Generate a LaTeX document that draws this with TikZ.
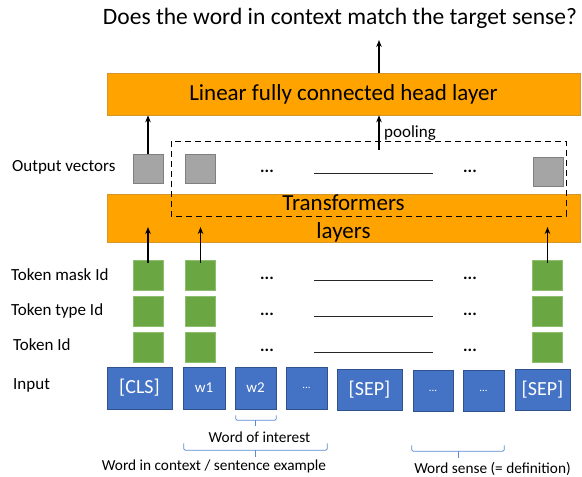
\documentclass[tikz,border=0pt]{standalone}
\usepackage{fontspec}
\setmainfont{Carlito}
\usetikzlibrary{arrows.meta,calc}
\definecolor{headorange}{RGB}{255,163,0}
\definecolor{headedge}{RGB}{214,150,40}
\definecolor{tokblue}{RGB}{68,114,196}
\definecolor{tokblueedge}{RGB}{47,82,143}
\definecolor{idgreen}{RGB}{106,166,65}
\definecolor{idgreenedge}{RGB}{140,190,110}
\definecolor{vecgray}{RGB}{165,165,165}
\definecolor{vecgrayedge}{RGB}{127,127,127}
\definecolor{bracecol}{RGB}{91,139,208}

\begin{document}
\begin{tikzpicture}[x=1pt,y=-1pt,
  layerbox/.style={draw=headedge, line width=0.6pt, fill=headorange, minimum width=473pt,
    inner sep=0pt, font=\fontsize{23}{28}\selectfont, align=center},
  vecbox/.style={draw=vecgrayedge, line width=0.6pt, fill=vecgray,
    minimum width=30pt, minimum height=29pt, inner sep=0pt},
  idbox/.style={draw=idgreenedge, line width=0.5pt, fill=idgreen,
    minimum width=30pt, minimum height=30pt, inner sep=0pt},
  tokbox/.style={draw=tokblueedge, line width=0.6pt, fill=tokblue, text=white,
    minimum height=42pt, inner sep=0pt},
  bigtok/.style={font=\fontsize{20}{24}\selectfont},
  wordtok/.style={font=\fontsize{15}{18}\selectfont},
  dottok/.style={font=\fontsize{11}{13}\selectfont},
  rowlabel/.style={anchor=west, inner sep=0pt, font=\fontsize{17}{20}\selectfont},
  dots/.style={inner sep=0pt, font=\fontsize{17}{20}\selectfont\bfseries},
  arr/.style={-{Stealth[length=7pt,width=5.5pt]}, line width=1.3pt},
  gap/.style={line width=1pt, draw=black!85},
  bracket/.style={draw=bracecol, line width=0.8pt, rounded corners=2pt},
  notelabel/.style={inner sep=0pt, font=\fontsize{15.3}{18}\selectfont}
]
\useasboundingbox (0,0) rectangle (582,477);

% question answered by the classifier
\node[inner sep=0pt, font=\fontsize{23.5}{28}\selectfont] (question) at (340,18)
  {Does the word in context match the target sense?};

% the two layer blocks
\node[layerbox, minimum height=42pt] (lin) at (343.5,94) {Linear fully connected head layer};
\node[layerbox, minimum height=48pt] (trf) at (343.5,218) {Transformers\\layers};

% row labels
\node[rowlabel] (lblout)  at (12,167) {Output vectors};
\node[rowlabel] (lblmask) at (11,275) {Token mask Id};
\node[rowlabel] (lbltype) at (11,311) {Token type Id};
\node[rowlabel] (lblid)   at (13,345) {Token Id};
\node[rowlabel] (lblin)   at (13,385) {Input};

% output vectors
\node[vecbox] (g1) at (148,168.5) {};
\node[vecbox] (g2) at (200.5,168.5) {};
\node[vecbox] (g3) at (548,171.5) {};

% id embeddings
\foreach \r/\y in {m/275, t/311, i/347}{
  \node[idbox] (\r1) at (148,\y) {};
  \node[idbox] (\r2) at (200.5,\y) {};
  \node[idbox] (\r3) at (547.5,\y) {};
}

% elided columns
\foreach \n/\y in {o/171, m/278, t/314, i/350}{
  \node[dots] (\n dotsA) at (267,\y) {...};
  \node[dots] (\n dotsB) at (470,\y) {...};
  \draw[gap] ($(\n dotsA)+(47,2)$) -- ($(\n dotsB)+(-37,2)$);
}

% input tokens
\node[tokbox, bigtok, minimum width=65pt] (cls)  at (139.5,388) {[CLS]};
\node[tokbox, wordtok, minimum width=42pt] (w1)  at (204,388) {w1};
\node[tokbox, wordtok, minimum width=41pt] (w2)  at (255.5,388) {w2};
\node[tokbox, dottok, minimum width=41pt] (d1)   at (306.5,388) {...};
\node[tokbox, bigtok, minimum width=65pt, minimum height=41pt] (sep1) at (369.5,389.5) {[SEP]};
\node[tokbox, dottok, minimum width=40pt, minimum height=41pt] (d2)   at (433,390.5) {...};
\node[tokbox, dottok, minimum width=41pt, minimum height=41pt] (d3)   at (483.5,390.5) {...};
\node[tokbox, bigtok, minimum width=55pt, minimum height=41pt] (sep2) at (542.5,389.5) {[SEP]};

% pooled region
\draw[dash pattern=on 6pt off 4pt, line width=0.8pt] (171,141) rectangle (566,216);
\node[anchor=west, inner sep=0pt, font=\fontsize{17}{20}\selectfont] (poolinglbl) at (384,133) {pooling};

% connectors
\coordinate (answer) at (379,40);
\coordinate (poolfrom) at (379,150);
\coordinate (trfin) at (0,227);
\draw[arr] (lin.north -| answer) -- (answer);
\draw[arr] (poolfrom) -- (poolfrom |- lin.south);
\draw[arr] (g1.north) -- (g1.north |- lin.south);
\draw[arr] ($(m1.north)+(0,3)$) -- (m1.north |- trfin);
\draw[arr] ($(m2.north)+(0,3)$) -- (m2.north |- trfin);
\draw[arr] ($(m3.north)+(0,3)$) -- (m3.north |- trfin);

% brackets under the input
\draw[bracket] ($(w2.south west)+(1,6)$) -- ++(0,5) -- ($(w2.south east)+(0,11)$) -- ++(0,-5);
\draw[bracket] ($(w2.south)+(0,11)$) -- ++(0,6);
\node[notelabel] (interest) at (259.5,437) {Word of interest};

\draw[bracket] ($(w1.south west)+(1,34)$) -- ++(0,7) -- ($(d1.south east)+(0,41)$) -- ++(0,-7);
\draw[bracket] ($(w1.south west)!0.5!(d1.south east)+(0.5,41)$) -- ++(0,7);
\node[notelabel] (context) at (214,466) {Word in context / sentence example};

\draw[bracket] ($(d2.south west)+(-1,34)$) -- ++(0,6) -- ($(d3.south east)+(0,40)$) -- ++(0,-6);
\draw[bracket] ($(d2.south west)!0.5!(d3.south east)+(-0.5,40)$) -- ++(0,7);
\node[notelabel] (sense) at (492.5,468.5) {Word sense (= definition)};
\end{tikzpicture}
\end{document}
